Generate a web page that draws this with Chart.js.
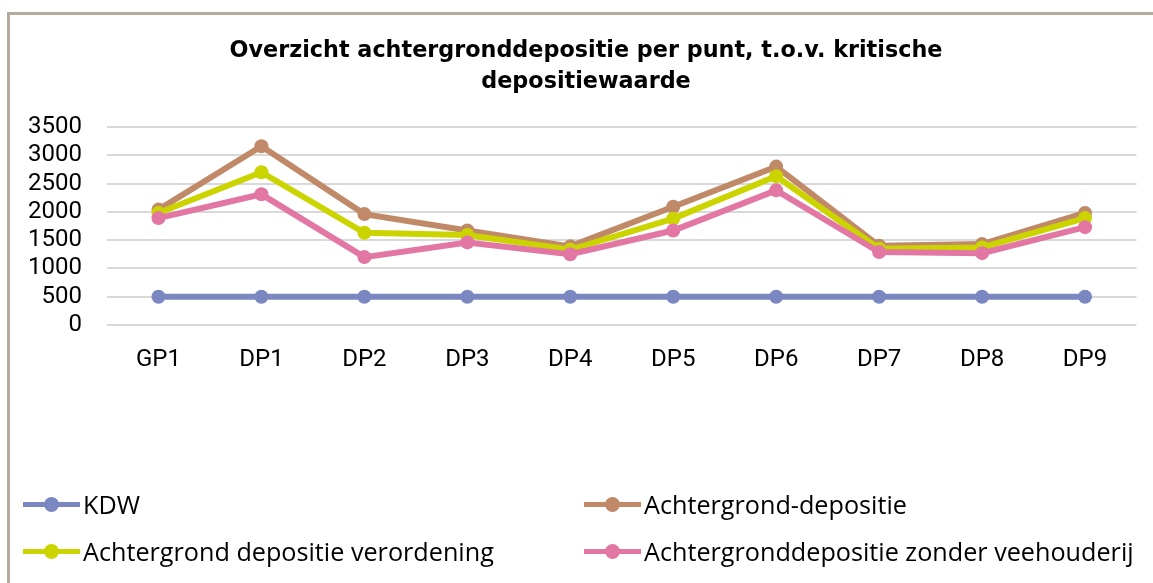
<!DOCTYPE html>
<html lang="nl">
<head>
    <meta charset="UTF-8">
    <title>Overzicht achtergronddepositie per punt</title>
    <script src="https://cdn.jsdelivr.net/npm/chart.js"></script>
    <style>
        html, body { margin: 0; padding: 0; background: #fff; overflow: hidden; }
        .frame {
            position: absolute; left: 7px; top: 12px; width: 1300px; height: 700px;
            border-top: 3px solid #b5aa9e; border-left: 3px solid #b5aa9e;
        }
        .chart-box { position: absolute; left: 0; top: 0; width: 1153px; height: 583px; }
        #legend { position: absolute; left: 0; top: 0; width: 1153px; height: 583px; font-family: "Open Sans", sans-serif; font-size: 25.2px; color: #000; font-variant-ligatures: none; }
        .item { position: absolute; display: flex; align-items: center; height: 30px; white-space: nowrap; }
        .sym { position: relative; width: 57px; height: 5px; margin-right: 3px; }
        .dot { position: absolute; left: 21px; top: -5px; width: 15px; height: 15px; border-radius: 50%; }
    </style>
</head>
<body>
    <div class="frame"></div>
    <div class="chart-box">
        <canvas id="chart" width="1153" height="583"></canvas>
    </div>
    <div id="legend"></div>

    <script>
        const categories = ['GP1', 'DP1', 'DP2', 'DP3', 'DP4', 'DP5', 'DP6', 'DP7', 'DP8', 'DP9'];
        const kdw = [500, 500, 500, 500, 500, 500, 500, 500, 500, 500];
        const achtergrond = [2040, 3160, 1960, 1670, 1390, 2090, 2800, 1400, 1430, 1980];
        const verordening = [1980, 2700, 1630, 1590, 1330, 1880, 2630, 1350, 1370, 1890];
        const zonderVeehouderij = [1890, 2310, 1200, 1460, 1250, 1670, 2380, 1290, 1270, 1730];
        const yTicks = [0, 500, 1000, 1500, 2000, 2500, 3000, 3500];

        function lineSet(label, data, color, order) {
            return {
                label: label,
                data: data,
                borderColor: color,
                backgroundColor: color,
                pointBackgroundColor: color,
                pointBorderWidth: 0,
                pointRadius: 7,
                borderWidth: 6,
                tension: 0,
                order: order
            };
        }

        // titel iets naar rechts, zoals in Excel boven het plotvlak
        const titleShift = {
            id: 'titleShift',
            afterLayout: function(chart) {
                if (chart.titleBlock) chart.titleBlock.left = 35.5;
            }
        };

        const chart = new Chart(document.getElementById('chart').getContext('2d'), {
            type: 'line',
            data: {
                labels: categories,
                datasets: [
                    lineSet('KDW', kdw, '#7b87c1', 4),
                    lineSet('Achtergrond-depositie', achtergrond, '#c08a69', 3),
                    lineSet('Achtergrond depositie verordening', verordening, '#ccd400', 2),
                    lineSet('Achtergronddepositie zonder veehouderij', zonderVeehouderij, '#e277a3', 1)
                ]
            },
            options: {
                responsive: false,
                animation: false,
                devicePixelRatio: 1,
                layout: { padding: { left: 0, right: 16.5, top: 0, bottom: 198 } },
                plugins: {
                    legend: { display: false },
                    tooltip: { enabled: false },
                    title: {
                        display: true,
                        text: ['Overzicht achtergronddepositie per punt, t.o.v. kritische', 'depositiewaarde'],
                        color: '#000',
                        font: { family: 'DejaVu Sans', size: 22.3, weight: 'bold', lineHeight: 31 / 22.3 },
                        padding: { top: 36, bottom: 29 }
                    }
                },
                scales: {
                    x: {
                        offset: true,
                        grid: { display: false },
                        border: { display: false },
                        ticks: { font: { family: 'Roboto', size: 24 }, color: '#000', padding: 13, maxRotation: 0 },
                        afterFit: function(scale) { scale.height = 60; }
                    },
                    y: {
                        min: yTicks[0],
                        max: yTicks[yTicks.length - 1],
                        grid: { color: '#d9d9d9', lineWidth: 2, drawTicks: false },
                        border: { display: false },
                        ticks: {
                            stepSize: yTicks[1] - yTicks[0],
                            autoSkip: false,
                            font: { family: 'Roboto', size: 24 },
                            color: '#000',
                            padding: 25,
                            callback: function(v) { return String(v); }
                        },
                        afterFit: function(scale) { scale.width = 107; }
                    }
                }
            },
            plugins: [titleShift]
        });

        // legenda in twee kolommen, zoals in het origineel
        const legend = document.getElementById('legend');
        chart.data.datasets.forEach(function(ds, i) {
            const item = document.createElement('div');
            item.className = 'item';
            item.style.left = (i % 2 === 0 ? 23 : 584) + 'px';
            item.style.top = (i < 2 ? 489 : 536) + 'px';
            item.innerHTML = '<span class="sym" style="background:' + ds.borderColor + '">' +
                '<span class="dot" style="background:' + ds.borderColor + '"></span></span>' +
                '<span>' + ds.label + '</span>';
            legend.appendChild(item);
        });
    </script>
</body>
</html>
